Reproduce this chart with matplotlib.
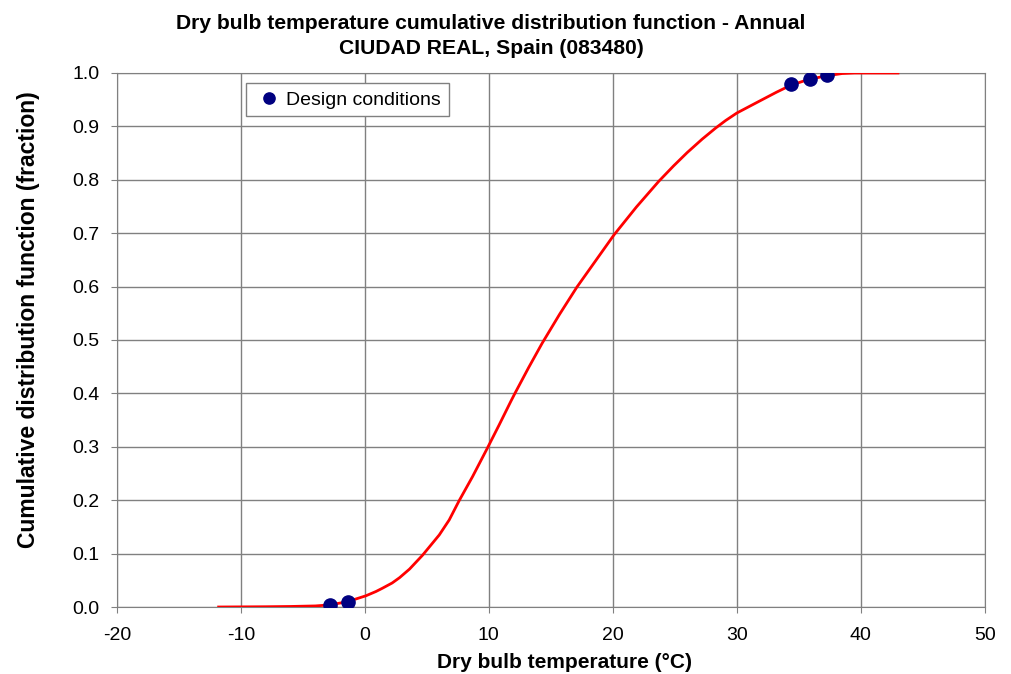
import numpy as np
import matplotlib
matplotlib.use("Agg")
import matplotlib.pyplot as plt

plt.rcParams['font.family'] = ['Liberation Sans', 'DejaVu Sans']
plt.rcParams['axes.unicode_minus'] = False

# CDF curve
temp = [-11.8, -8, -6, -4, -2.8, -1.4, -0.46, 0.08, 0.89, 1.4, 2.2, 2.8, 3.6, 4.65, 6.0,
        6.8, 7.6, 8.68, 9.89, 10.83, 11.77, 12.1, 13.2, 14.3, 15.7, 17.1, 18.6, 20.1, 21.9, 23.7,
        24.9, 26.0, 27.2, 28.3, 29.1, 30.0, 31.8, 33.2, 34.35, 35.8, 37.3, 38.5, 39.5, 43]
cdf = [0.0, 0.0005, 0.001, 0.002, 0.004, 0.01, 0.017, 0.021, 0.029, 0.035, 0.045, 0.055, 0.071,
       0.097, 0.135, 0.163, 0.199, 0.244, 0.298, 0.341, 0.385, 0.40, 0.448, 0.494, 0.548,
       0.599, 0.648, 0.697, 0.749, 0.797, 0.826, 0.851, 0.876, 0.897, 0.911, 0.925, 0.947, 0.964,
       0.977, 0.988, 0.995, 0.999, 1.0, 1.0]

# design conditions
design_t = [-2.8, -1.4, 34.4, 35.9, 37.3]
design_f = [0.004, 0.01, 0.98, 0.989, 0.996]

fig = plt.figure(figsize=(10.11, 6.74), dpi=100)
ax = fig.add_axes([0.1157, 0.0994, 0.8583, 0.7923])

ax.plot(temp, cdf, color='#ff0000', lw=2, zorder=3)
ax.plot(design_t, design_f, 'o', color='#000080', ms=9.5, ls='none', zorder=4,
        label='Design conditions')

ax.set_xlim(-20, 50)
ax.set_ylim(0, 1)
ax.set_xticks(np.arange(-20, 51, 10))
ax.set_yticks(np.arange(0, 1.01, 0.1))
ax.set_yticklabels(['%.1f' % v for v in np.arange(0, 1.01, 0.1)])
ax.grid(True, color='#808080', lw=1)
ax.set_axisbelow(True)
for s in ax.spines.values():
    s.set_color('#808080')
ax.tick_params(labelsize=14, color='#808080', length=4.5, direction='out')
ax.tick_params(axis='x', pad=10)
ax.tick_params(axis='y', pad=8)

ax.set_xlabel('Dry bulb temperature (°C)', fontsize=15, fontweight='bold')
ax.xaxis.set_label_coords(0.516, -0.086)
ax.set_ylabel('Cumulative distribution function (fraction)', fontsize=16.5, fontweight='bold')
ax.yaxis.set_label_coords(-0.089, 0.539)
ax.set_title('Dry bulb temperature cumulative distribution function - Annual\nCIUDAD REAL, Spain (083480)',
             fontsize=15.2, fontweight='bold', pad=14, linespacing=1.35, x=0.431)

leg = ax.legend(loc='upper left', bbox_to_anchor=(0.149, 0.981), fontsize=14, handletextpad=0.15,
                fancybox=False, framealpha=1, edgecolor='#808080', borderpad=0.4,
                handlelength=1.5, markerscale=0.85, borderaxespad=0)

fig.savefig('out.png', dpi=100)
